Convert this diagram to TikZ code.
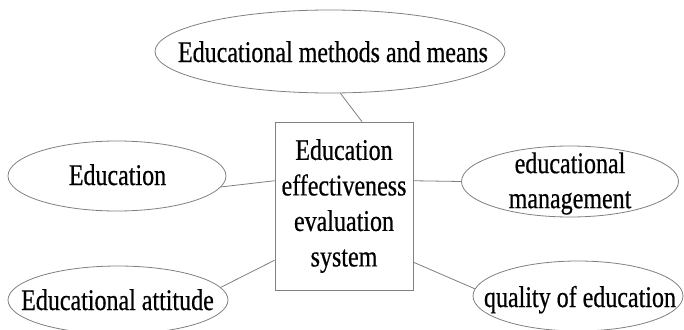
\documentclass[tikz,border=0pt]{standalone}
\usepackage{fontspec}
\setmainfont[FakeStretch=0.8,FakeBold=0.5]{Liberation Serif}
\usetikzlibrary{shapes.geometric}
\definecolor{lc}{RGB}{128,128,128}
\begin{document}
\begin{tikzpicture}[x=1pt,y=-1pt,
  ell/.style={ellipse,draw=lc,line width=0.8pt,inner sep=0pt},
  boxnode/.style={rectangle,draw=lc,line width=0.8pt,inner sep=0pt,align=center,font=\fontsize{30}{35.5}\selectfont},
  lbl/.style={inner sep=0pt,align=center,font=\fontsize{30}{35}\selectfont},
  conn/.style={draw=lc,line width=0.8pt}]
\useasboundingbox (0,0) rectangle (684,329);
\fill[white] (0,0) rectangle (684,329);
% ellipses
\node[ell,minimum width=350pt,minimum height=83pt] (top) at (330,51.5) {};
\node[ell,minimum width=218pt,minimum height=70pt] (edu) at (117,176) {};
\node[ell,minimum width=217pt,minimum height=71pt] (man) at (570,181.5) {};
\node[ell,minimum width=220pt,minimum height=68pt] (att) at (118,300) {};
\node[ell,minimum width=210pt,minimum height=70pt] (qual) at (578,296) {};
% central box
\node[boxnode,minimum width=138pt,minimum height=168pt] (box) at (344,206) {Education\\effectiveness\\evaluation\\system};
% labels
\node[lbl,anchor=base] (topt) at (333,62) {Educational methods and means};
\node[lbl,anchor=base] (edut) at (117.5,185) {Education};
\node[lbl] (mant) at (570,183.5) {educational\\management};
\node[lbl,anchor=base] (attt) at (117.5,310) {Educational attitude};
\node[lbl,anchor=base] (qualt) at (580,307) {quality of education};
% connectors
\draw[conn] (top.284) -- (box.78);
\draw[conn] (edu.354) -- (box.160);
\draw[conn] (box.20) -- (man.180);
\draw[conn] (att.7) -- (box.218.6);
\draw[conn] (box.321.4) -- (qual.176);
\end{tikzpicture}
\end{document}
